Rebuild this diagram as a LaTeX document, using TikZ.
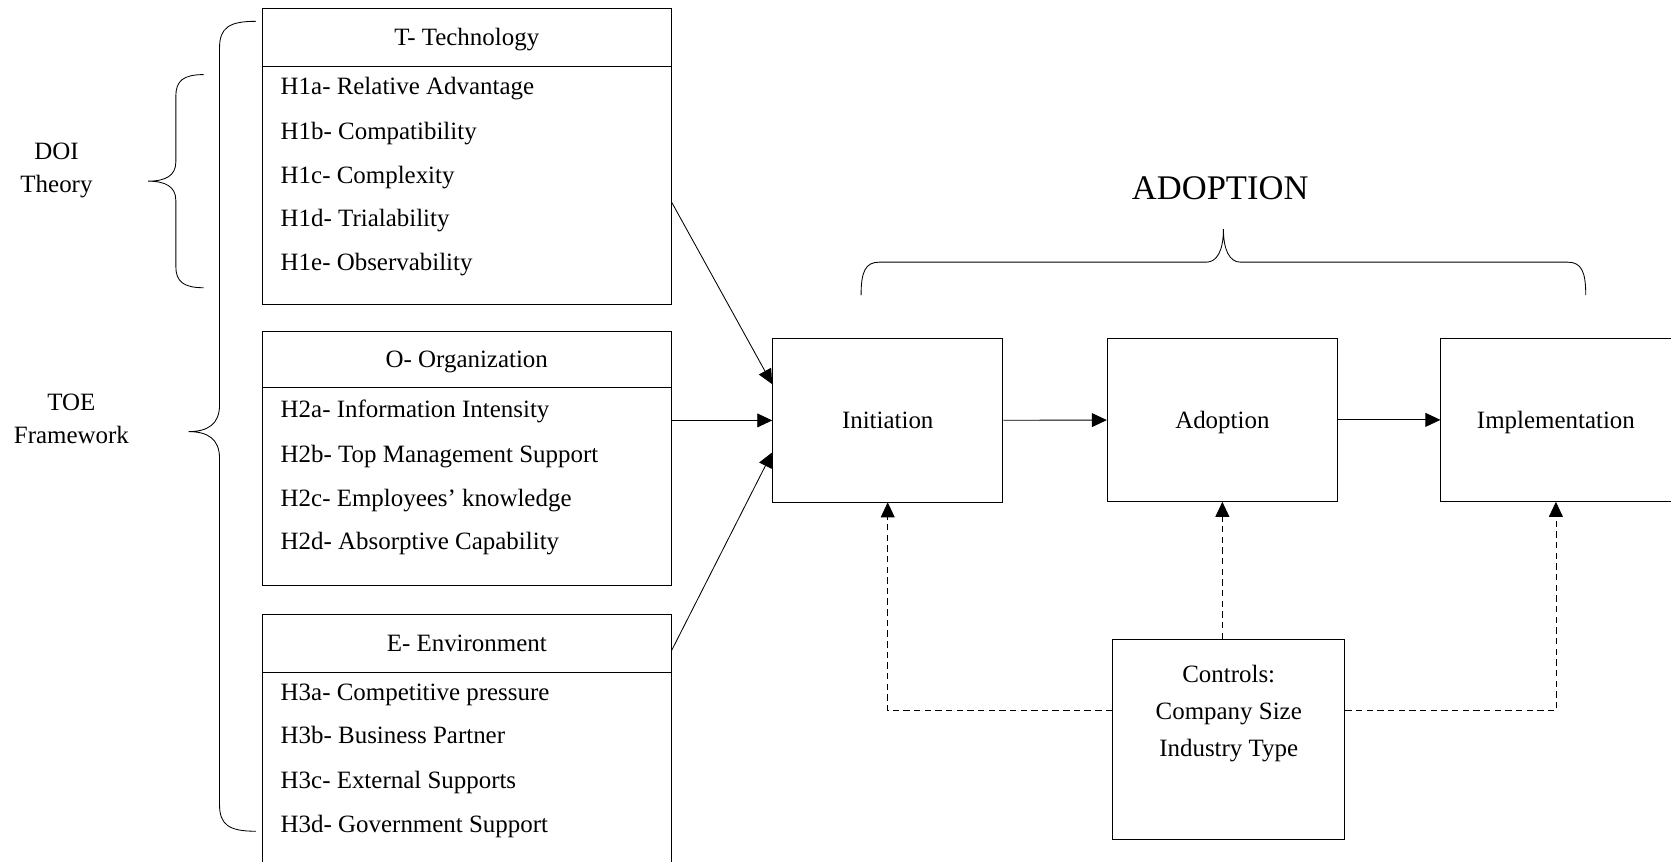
\documentclass[tikz,border=0pt]{standalone}
\usepackage{fontspec}
\setmainfont{Liberation Serif}
\usetikzlibrary{arrows.meta, positioning}
\newcommand{\hypfont}{\fontsize{11.7}{14.5}\selectfont}
\newcommand{\bigfont}{\fontsize{16.2}{19}\selectfont}
\tikzset{>={Triangle[length=7pt,width=6.5pt]},
    line width=1.3pt,
    box/.style={rectangle,draw,inner sep=0pt,font=\hypfont,text depth=0pt},
    head/.style={box,minimum width=192pt},
    item/.style={anchor=base west,inner sep=0pt,font=\hypfont},
    stage/.style={box,minimum width=108pt,minimum height=76.5pt},
    control/.style={->,dash pattern=on 3pt off 2pt},
    textnode/.style={align=center,inner sep=0pt,font=\hypfont}}

\begin{document}
\begin{tikzpicture}[x=0.5pt,y=-0.5pt]
\useasboundingbox (0,0) rectangle (1568,808);

% factor boxes
\node[head, minimum height=27pt]   (tech)     at (438,35)    {T- Technology};
\node[head, minimum height=112pt]  (techbody) at (438,174)   {};
\node[head, minimum height=26.5pt] (org)      at (438,337.5) {O- Organization};
\node[head, minimum height=92.5pt] (orgbody)  at (438,456.5) {};
\node[head, minimum height=27pt]   (env)      at (438,604)   {E- Environment};
\node[head, minimum height=90.5pt] (envbody)  at (438,721.5) {};

\foreach \y/\txt [count=\k] in {89/H1a- Relative Advantage, 131/H1b- Compatibility,
    172/H1c- Complexity, 213/H1d- Trialability, 254/H1e- Observability}
    \node[item] (t\k) at (263,\y) {\txt};
\foreach \y/\txt [count=\k] in {392/H2a- Information Intensity, 434/H2b- Top Management Support,
    475/H2c- Employees’ knowledge, 516/H2d- Absorptive Capability}
    \node[item] (o\k) at (263,\y) {\txt};
\foreach \y/\txt [count=\k] in {657/H3a- Competitive pressure, 698/H3b- Business Partner,
    740/H3c- External Supports, 781/H3d- Government Support}
    \node[item] (e\k) at (263,\y) {\txt};

% theory labels and braces
\node[textnode, text depth=0pt] (doi) at (53,157) {DOI\\[1pt]Theory};
\node[textnode, text depth=0pt] (toe) at (67,393) {TOE\\[1pt]Framework};
\draw (191,70) .. controls (172,70) and (165,76) .. (165,90) -- (165,152)
    .. controls (165,165) and (155,170) .. (139,170)
    .. controls (155,170) and (165,175) .. (165,188) -- (165,250)
    .. controls (165,264) and (172,270) .. (191,270);
\draw (240,20) .. controls (215,20) and (206,26) .. (206,45) -- (206,380)
    .. controls (206,398) and (195,405) .. (177,405)
    .. controls (195,405) and (206,412) .. (206,430) -- (206,755)
    .. controls (206,774) and (215,780) .. (240,780);

% adoption stages
\node[stage] (init)  at (833,394.5) {Initiation};
\node[stage] (adopt) at (1147,394)  {Adoption};
\node[stage] (impl)  at (1460,394)  {Implementation};
\node[font=\bigfont, inner sep=0pt] (title) at (1145,177) {ADOPTION};
\draw (808,277) .. controls (808,255) and (812,246) .. (825,246) -- (1132,246)
    .. controls (1142,246) and (1148,235) .. (1148,215)
    .. controls (1148,235) and (1154,246) .. (1164,246) -- (1471,246)
    .. controls (1484,246) and (1488,255) .. (1488,277);

% controls
\node[box, minimum width=109pt, minimum height=94pt] (ctrl) at (1153,694) {};
\node[textnode, below=12pt of ctrl.north, text depth=0pt] (ctrltext)
    {Controls:\\[3pt]Company Size\\[3pt]Industry Type};

% connectors
\draw[->] ([yshift=-8pt]techbody.east) -- ([yshift=17pt]init.west);
\draw[->] (orgbody.east |- init.west) -- (init.west);
\draw[->] ([yshift=-3pt]env.east) -- ([yshift=-15pt]init.west);
\draw[->] (init) -- (adopt);
\draw[->] (adopt) -- (impl);
\draw[control] ([yshift=13.5pt]ctrl.west) -| (init.south);
\draw[control] (ctrl.north -| adopt.south) -- (adopt.south);
\draw[control] ([yshift=13.5pt]ctrl.east) -| (impl.south);
\end{tikzpicture}
\end{document}
